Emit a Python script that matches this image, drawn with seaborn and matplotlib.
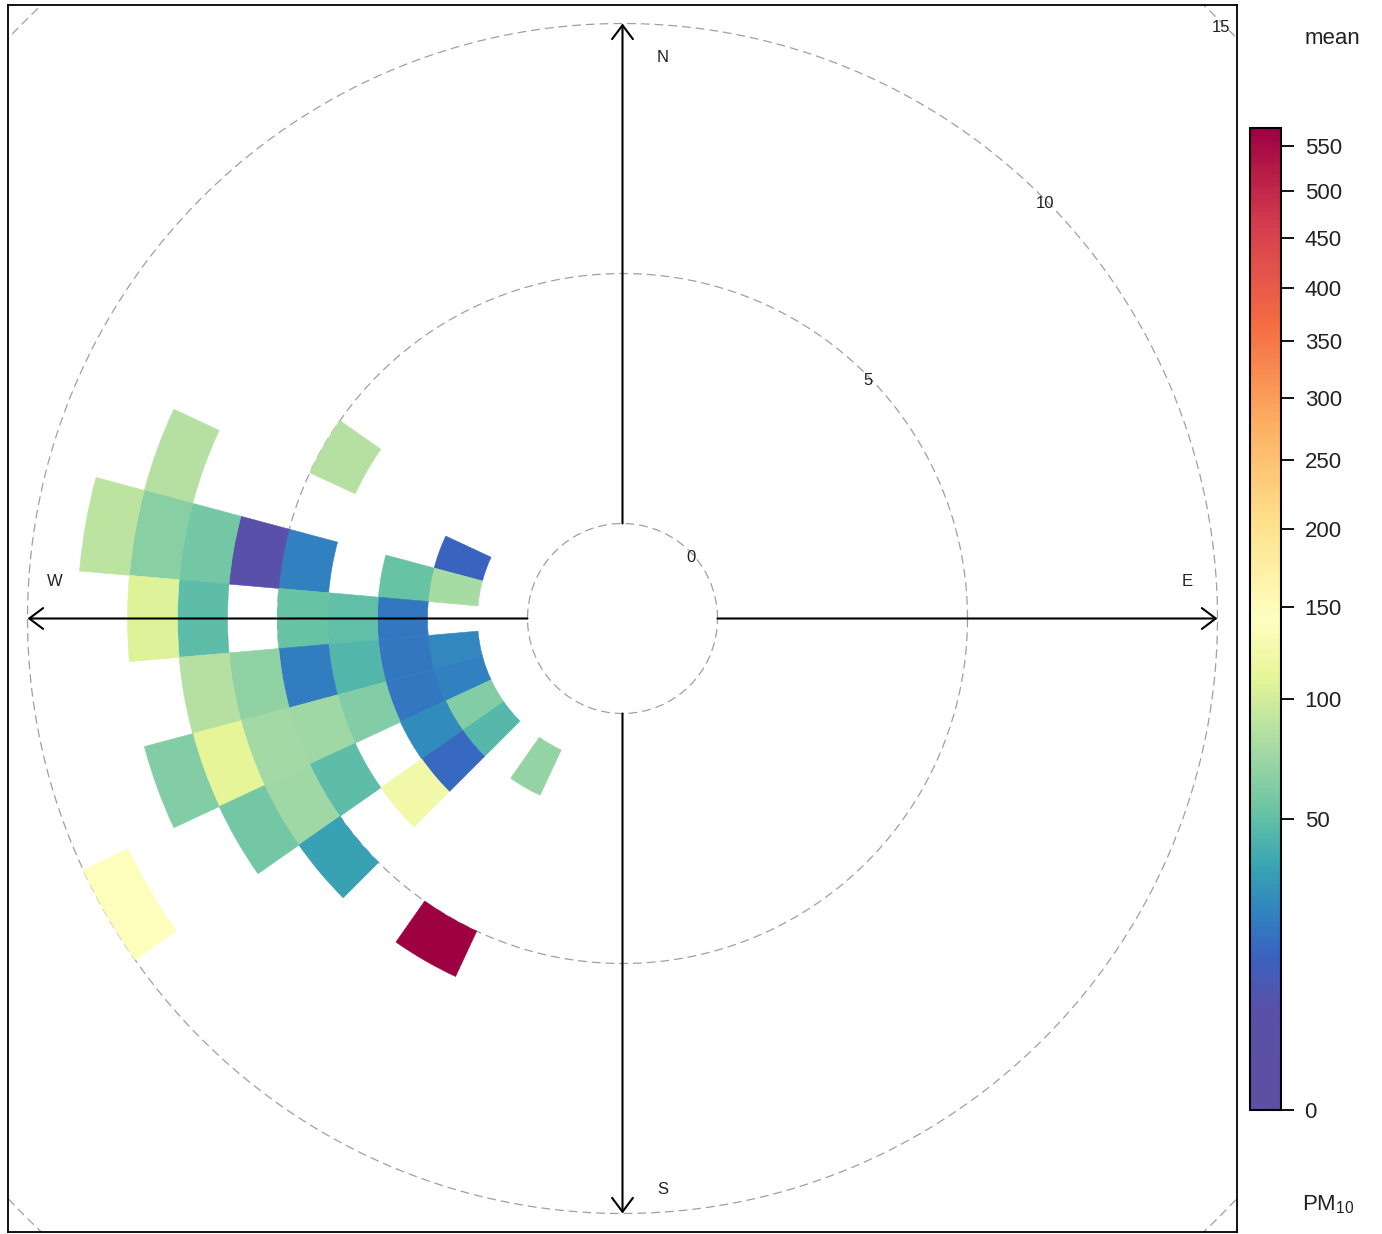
import numpy as np
import matplotlib
matplotlib.use("Agg")
import matplotlib.pyplot as plt
import seaborn as sns
from matplotlib.colors import LinearSegmentedColormap, PowerNorm
from matplotlib.cm import ScalarMappable

# ---------------- data ----------------
# wind direction bin centre (degrees, compass), wind-speed bin lower edge, mean PM10
wd = [300, 290, 290,
      280, 280, 280, 280, 280, 280, 280,
      270, 270, 270, 270, 270,
      260, 260, 260, 260, 260, 260,
      250, 250, 250, 250, 250, 250, 250,
      240, 240, 240, 240, 240, 240,
      230, 230, 230, 230,
      210, 210]
ws_bin = [4, 1, 7,
          1, 2, 4, 5, 6, 7, 8,
          2, 3, 4, 6, 7,
          1, 2, 3, 4, 5, 6,
          1, 2, 3, 4, 5, 6, 7,
          1, 2, 4, 5, 6, 9,
          1, 2, 3, 5,
          1, 5]
pm10_mean = [85, 14, 85,
             78, 52, 22, 6, 57, 65, 88,
             20, 50, 52, 48, 106,
             25, 20, 45, 21, 68, 84,
             22, 20, 62, 74, 76, 110, 62,
             62, 26, 48, 75, 56, 140,
             46, 16, 124, 34,
             70, 570]

circle_levels = [0, 5, 10, 15]
cbar_ticks = [0, 50, 100, 150, 200, 250, 300, 350, 400, 450, 500, 550]
compass_labels = ["N", "E", "S", "W"]
cbar_title = "mean"
pollutant_label = "PM$_{10}$"

# ---------------- style ----------------
sns.set_theme(style="white")
plt.rcParams['font.family'] = ['Liberation Sans', 'DejaVu Sans']
plt.rcParams['mathtext.default'] = 'regular'

cmap = LinearSegmentedColormap.from_list("openair_spectral", [
    (0.00, "#5E4FA2"), (0.10, "#5A50A8"), (0.155, "#3A62C0"),
    (0.20, "#3083C0"), (0.25, "#3AA6B2"), (0.30, "#66C2A5"),
    (0.37, "#A8DBA4"), (0.44, "#E6F598"), (0.50, "#FFFFBF"),
    (0.60, "#FEE08B"), (0.70, "#FDAE61"), (0.80, "#F46D43"),
    (0.90, "#D53E4F"), (1.00, "#9E0142")])
norm = PowerNorm(gamma=0.5, vmin=0, vmax=571)

W, H = 1382, 1234
fig = plt.figure(figsize=(W / 100, H / 100), dpi=100)


def rect(x0, y0, x1, y1):
    return [x0 / W, 1 - y1 / H, (x1 - x0) / W, (y1 - y0) / H]


box = rect(8, 5, 1237, 1232)
PX = 50.0            # pixels per wind-speed unit
OFF = 95 / PX        # radius of the "0" circle
half_w = (1237 - 8) / 2 / PX
half_h = (1232 - 5) / 2 / PX

# background axes: frame + dashed circles
ax = fig.add_axes(box, zorder=1)
ax.set_xlim(-half_w, half_w)
ax.set_ylim(-half_h, half_h)
ax.set_xticks([])
ax.set_yticks([])
for s in ax.spines.values():
    s.set_color("black")
    s.set_linewidth(1.3)
t = np.linspace(0, 2 * np.pi, 1441)
for lev in circle_levels:
    R = OFF + lev
    ax.plot(R * np.cos(t), R * np.sin(t), color="#a0a0a0", lw=0.9,
            ls=(0, (7, 4)), zorder=1)

# polar axes: frequency cells
pax = fig.add_axes(box, projection="polar", zorder=2)
pax.set_facecolor("none")
pax.set_theta_zero_location("N")
pax.set_theta_direction(-1)
pax.set_rorigin(-OFF)
pax.set_rlim(0, min(half_w, half_h) - OFF)
pax.grid(False)
pax.set_xticks([])
pax.set_yticks([])
cell_colors = cmap(norm(np.array(pm10_mean, dtype=float)))
pax.bar(np.deg2rad(wd), height=1.0, width=np.deg2rad(10), bottom=ws_bin,
        color=cell_colors, edgecolor=cell_colors, linewidth=0.4, align="center")
pax.axis("off")

# foreground axes: arrows and labels
fax = fig.add_axes(box, zorder=3)
fax.set_facecolor("none")
fax.set_xlim(-half_w, half_w)
fax.set_ylim(-half_h, half_h)
fax.axis("off")
tip = OFF + 10
for dx, dy in [(0, 1), (1, 0), (0, -1), (-1, 0)]:
    fax.annotate("", xy=(dx * tip, dy * tip), xytext=(dx * OFF, dy * OFF),
                 arrowprops=dict(arrowstyle="->,head_length=0.4,head_width=0.3",
                                 color="black", lw=1.5, mutation_scale=25,
                                 shrinkA=0, shrinkB=0))

comp_pos = {"N": (0.81, 11.21), "E": (11.29, 0.75), "S": (0.81, -11.41), "W": (-11.35, 0.75)}
for lab in compass_labels:
    x, y = comp_pos[lab]
    fax.text(x, y, lab, ha="center", va="center", fontsize=12, color="#222222")

c45 = np.cos(np.pi / 4)
for lev in circle_levels:
    R = OFF + lev - 0.06
    fax.text(R * c45 + 0.07, R * c45 - 0.08, str(lev), ha="center", va="center",
             fontsize=12, color="#222222")

# colour key
cax = fig.add_axes(rect(1250, 128, 1281, 1110))
sm = ScalarMappable(norm=norm, cmap=cmap)
cb = fig.colorbar(sm, cax=cax, ticks=cbar_ticks)
cb.outline.set_edgecolor("black")
cb.outline.set_linewidth(1.5)
cax.yaxis.set_ticks_position("right")
cax.tick_params(axis="y", right=True, labelsize=16, length=9, width=1.3,
                pad=8, colors="black", labelcolor="#222222")
cax.set_yticklabels([str(v) for v in cbar_ticks])

fig.text(1332 / W, 1 - 38 / H, cbar_title, ha="center", va="center",
         fontsize=16, color="#222222")
fig.text(1328 / W, 1 - 1205 / H, pollutant_label, ha="center", va="center",
         fontsize=16, color="#222222")

fig.savefig("out.png", dpi=100)
